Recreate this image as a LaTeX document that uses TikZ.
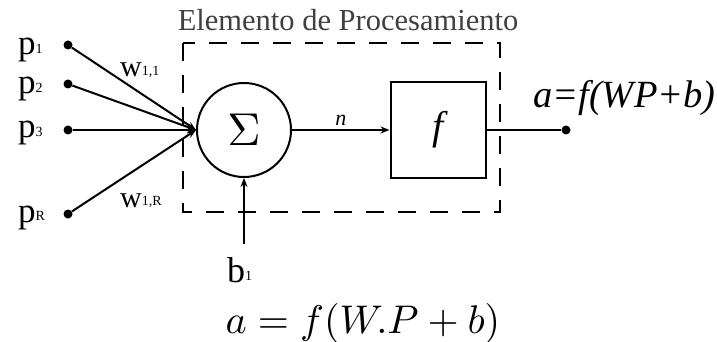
\documentclass[tikz,border=0pt]{standalone}
\usepackage{graphicx}
\usepackage{fontspec}
\setmainfont{Liberation Serif}
\usetikzlibrary{arrows.meta}
\newcommand{\fs}[1]{\fontsize{#1}{#1}\selectfont}
\newcommand{\lbl}[3]{{\fs{#1}#2}{\fs{14}\raisebox{0.1em}{#3}}}
\tikzset{
  ln/.style={line width=2pt},
  tip/.style={-{Stealth[length=9pt,width=7pt]}},
  dotn/.style={circle,fill=black,inner sep=0pt,minimum size=9pt},
  dashbox/.style={line width=2.2pt,dash pattern=on 18pt off 14pt},
  txt/.style={inner sep=0pt,anchor=base west}
}
\begin{document}
\begin{tikzpicture}[x=1pt,y=-1pt]
\useasboundingbox (0,0) rectangle (717,342);
% title
\node[inner sep=0pt,text=black!75] (title) at (348,20) {\fs{30.5}Elemento de Procesamiento};
% dashed box
\draw[dashbox] (183,43) rectangle (500,212);
% input dots
\node[dotn] (d1) at (68,45) {};
\node[dotn] (d2) at (68,84) {};
\node[dotn] (d3) at (68,130) {};
\node[dotn] (dR) at (68,214) {};
\node[txt] (p1) at (18,55) {\lbl{35}{p}{1}};
\node[txt] (p2) at (18,94) {\lbl{35}{p}{2}};
\node[txt] (p3) at (18,138) {\lbl{35}{p}{3}};
\node[txt] (pR) at (18,222) {\lbl{35}{p}{R}};
% sum and f
\node[circle,draw,ln,minimum size=94pt,inner sep=0pt] (sig) at (244,130) {\scalebox{4.6}{$\Sigma$}};
\node[draw,ln,minimum size=95pt,inner sep=0pt] (fb) at (438,130) {\fs{40}\itshape f};
\node[dotn] (out) at (566,130) {};
% weights
\node[txt] (w11) at (120,77) {\lbl{30}{w}{1,1}};
\node[txt] (w1R) at (120,207) {\lbl{30}{w}{1,R}};
% connectors
\draw[ln,tip] (d1) -- (sig.west);
\draw[ln,tip] (d2) -- (sig.west);
\draw[ln,tip] (d3) -- (sig.west);
\draw[ln,tip] (dR) -- (sig.west);
\draw[ln,tip] (sig) -- node[above=4pt,inner sep=0pt] (nlab) {\fs{22}\itshape n} (fb);
\draw[ln] (fb) -- (out);
\node[txt] (b1) at (227,282) {\lbl{36}{b}{1}};
\draw[ln,tip] (244,244) coordinate (bs) -- (sig.south);
% output label
\node[txt] (olab) at (533,108) {\fs{38.5}\itshape a=f(WP+b)};
% equation
\node[inner sep=0pt,anchor=base] (eq) at (363,333) {\scalebox{4}{$a = f(W.P + b)$}};
\end{tikzpicture}
\end{document}
